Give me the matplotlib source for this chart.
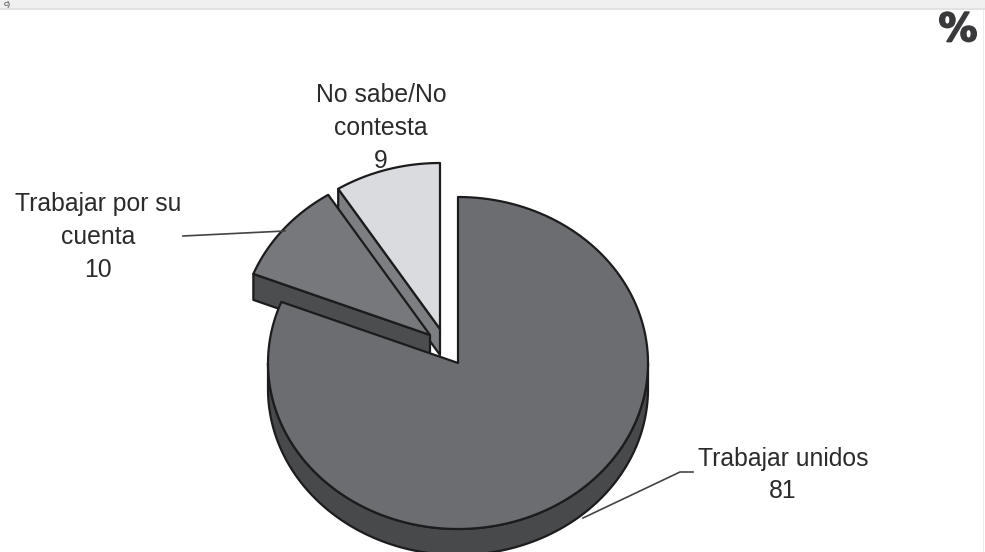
import numpy as np
import matplotlib
matplotlib.use("Agg")
import matplotlib.pyplot as plt
import matplotlib.patheffects as pe
from matplotlib.patches import Polygon, Rectangle

labels = ["Trabajar unidos", "Trabajar por su\ncuenta", "No sabe/No\ncontesta"]
values = [81, 10, 9]
top_colors = ["#6c6d70", "#77787b", "#d9dbde"]
wall_colors = ["#48494b", "#4c4d4f", "#7d7e81"]

plt.rcParams["font.family"] = ["Liberation Sans", "DejaVu Sans"]

fig = plt.figure(figsize=(9.85, 5.52), dpi=100)
ax = fig.add_axes([0, 0, 1, 1])
ax.set_xlim(0, 985)
ax.set_ylim(552, 0)
ax.axis("off")

rx, ry = 190, 166
depth = 26
ink = "#1c1c1e"
centers = [(458, 363), (430, 335), (440, 329)]

# angulos en sentido horario desde las 12
ends = np.cumsum(values) / sum(values) * 360
starts = np.r_[0, ends[:-1]]


def arc(c, a, b, dy=0):
    t = np.radians(np.linspace(a, b, 160))
    return np.c_[c[0] + rx * np.sin(t), c[1] + dy - ry * np.cos(t)]


def wedge(i):
    return np.vstack([[centers[i]], arc(centers[i], starts[i], ends[i])])


def draw(pts, color):
    ax.add_patch(Polygon(pts, closed=True, fc=color, ec=ink, lw=1.6, joinstyle="round"))


# barra de arriba
ax.add_patch(Rectangle((0, 0), 985, 8, fc="#f0f0f0", ec="none"))
ax.add_patch(Rectangle((0, 8), 985, 2, fc="#e2e2e2", ec="none"))
ax.add_patch(Rectangle((983, 10), 1, 542, fc="#ececec", ec="none"))
ax.text(4, 4, "c)", fontsize=6, color="#333333", va="center", ha="left")

# No sabe: cara cortada y tapa
c = np.array(centers[2])
p = arc(centers[2], starts[2], starts[2] + 0.01)[0]
draw([p, c, c + [0, depth], p + [0, depth]], wall_colors[2])
draw(wedge(2), top_colors[2])

# Trabajar por su cuenta: pared frontal y tapa
c = np.array(centers[1])
p = arc(centers[1], starts[1], starts[1] + 0.01)[0]
draw([p, c, c + [0, depth], p + [0, depth]], wall_colors[1])
draw(wedge(1), top_colors[1])

# Trabajar unidos: pared exterior y tapa
outer = arc(centers[0], 90, 270)
lower = arc(centers[0], 270, 90, dy=depth)
draw(np.vstack([outer, lower]), wall_colors[0])
draw(wedge(0), top_colors[0])

# lineas guia
ax.plot([183, 285], [236, 231], color="#444444", lw=1.2)
ax.plot([693, 680, 583], [472, 472, 518], color="#444444", lw=1.2)

# etiquetas
txt = dict(fontsize=17.8, color="#2b2b2b", ha="center", va="center", linespacing=1.46)
ax.text(783, 475, f"{labels[0]}\n{values[0]}", **txt)
ax.text(98, 237, f"{labels[1]}\n{values[1]}", **txt)
ax.text(381, 128, f"{labels[2]}\n{values[2]}", **txt)

pct = ax.text(958, 30, "%", fontsize=28, fontweight="bold", family="DejaVu Sans", color="#3a3a3c",
              ha="center", va="center")
pct.set_path_effects([pe.withStroke(linewidth=1.2, foreground="#3a3a3c")])

fig.savefig("out.png", dpi=100, facecolor="white")
